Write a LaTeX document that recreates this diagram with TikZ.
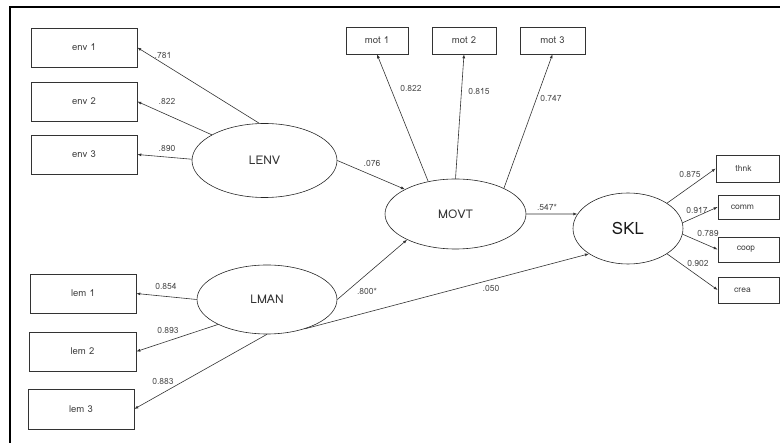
\documentclass[tikz,border=0pt]{standalone}
\usepackage{fontspec}
\setmainfont{Loma}
\usepackage{tikz}
\usetikzlibrary{arrows.meta, shapes.geometric, positioning}

\tikzset{
  obsbox/.style={draw=black!80, line width=0.6pt, inner sep=0pt, text=black!75, font=\fontsize{9.5}{11}\selectfont},
  latent/.style={ellipse, draw=black!85, line width=0.6pt, inner sep=0pt, text=black!80, font=\fontsize{12}{14}\selectfont},
  coef/.style={inner sep=1pt, text=black!70, font=\fontsize{8.5}{10}\selectfont},
  path/.style={draw=black!80, line width=0.6pt, -{Latex[length=4pt,width=3pt]}}
}

\begin{document}
\begin{tikzpicture}[x=1pt,y=-1pt]

            % Khung
            \useasboundingbox (0,0) rectangle (780,443);
            \draw[line width=2pt] (10,443) -- (10,7.5) -- (780,7.5); % vien trai va tren

            % Bien tiem an
            \node[latent, minimum width=145pt, minimum height=74pt] (LENV) at (264.5,160.5) {LENV};
            \node[latent, minimum width=140pt, minimum height=69pt] (LMAN) at (267,299.5) {LMAN};
            \node[latent, minimum width=141pt, minimum height=70pt] (MOVT) at (455.5,214) {MOVT};
            \node[latent, minimum width=110pt, minimum height=71pt, font=\fontsize{17}{20}\selectfont, text=black!90] (SKL) at (628,228.5) {SKL};

            % Bien quan sat
            \node[obsbox, minimum width=106pt, minimum height=39pt] (env1) at (84,47.5) {env 1};
            \node[obsbox, minimum width=106pt, minimum height=39pt] (env2) at (84,101.5) {env 2};
            \node[obsbox, minimum width=106pt, minimum height=39pt] (env3) at (84,154.5) {env 3};
            \node[obsbox, minimum width=106pt, minimum height=39pt] (lem1) at (83,293.5) {lem 1};
            \node[obsbox, minimum width=107pt, minimum height=39pt] (lem2) at (82.5,351.5) {lem 2};
            \node[obsbox, minimum width=106pt, minimum height=40pt] (lem3) at (81,409) {lem 3};
            \node[obsbox, minimum width=62pt, minimum height=27pt] (mot1) at (377,40.5) {mot 1};
            \node[obsbox, minimum width=64pt, minimum height=27pt] (mot2) at (464,40.5) {mot 2};
            \node[obsbox, minimum width=65pt, minimum height=27pt] (mot3) at (552.5,40.5) {mot 3};
            \node[obsbox, minimum width=63pt, minimum height=27pt, font=\fontsize{8.5}{10}\selectfont] (thnk) at (747.5,168.5) {\hspace*{-8pt}thnk};
            \node[obsbox, minimum width=61pt, minimum height=24pt, font=\fontsize{8.5}{10}\selectfont] (comm) at (748.5,207) {\hspace*{-12pt}comm};
            \node[obsbox, minimum width=61pt, minimum height=25pt, font=\fontsize{8.5}{10}\selectfont] (coop) at (748.5,249.5) {\hspace*{-5pt}coop};
            \node[obsbox, minimum width=61pt, minimum height=26pt, font=\fontsize{8.5}{10}\selectfont] (crea) at (748.5,290) {\hspace*{-12pt}crea};

            % Duong dan
            \draw[path] (LENV.98) -- (env1.east);
            \draw[path] (LENV.154) -- (env2.east);
            \draw[path] (LENV.179) -- (env3.east);
            \draw[path] (LENV.east) -- (MOVT.154);
            \draw[path] (LMAN.west) -- (lem1.east);
            \draw[path] (LMAN.207) -- (lem2.east);
            \draw[path] (LMAN.south) -- (lem3.east);
            \draw[path] (LMAN.east) -- (MOVT.208);
            \draw[path] (LMAN.322) -- (SKL.213);
            \draw[path] (MOVT.130) -- (mot1.south);
            \draw[path] (MOVT.north) -- (mot2.south);
            \draw[path] (MOVT.28) -- (mot3.south);
            \draw[path] (MOVT.east) -- (SKL.164);
            \draw[path] (SKL.33) -- (thnk.west);
            \draw[path] (SKL.6) -- (comm.west);
            \draw[path] (SKL.354) -- (coop.west);
            \draw[path] (SKL.327) -- (crea.west);

            % He so
            \node[coef] (c781) at (163,55) {.781};
            \node[coef] (c822a) at (167,101) {.822};
            \node[coef] (c890) at (167,148) {.890};
            \node[coef] (c076) at (372,163) {.076};
            \node[coef] (c822b) at (411,88) {0.822};
            \node[coef] (c815) at (479,91) {0.815};
            \node[coef] (c747) at (551,98) {0.747};
            \node[coef] (c547) at (547,207) {.547*};
            \node[coef] (c800) at (367,291) {.800*};
            \node[coef] (c050) at (491,288) {.050};
            \node[coef] (c854) at (166,286) {0.854};
            \node[coef] (c893) at (168,330) {0.893};
            \node[coef] (c883) at (163,381) {0.883};
            \node[coef] (c875) at (690,174) {0.875};
            \node[coef] (c917) at (697,210) {0.917};
            \node[coef] (c789) at (708,233) {0.789};
            \node[coef] (c902) at (698,263) {0.902};

\end{tikzpicture}
\end{document}
